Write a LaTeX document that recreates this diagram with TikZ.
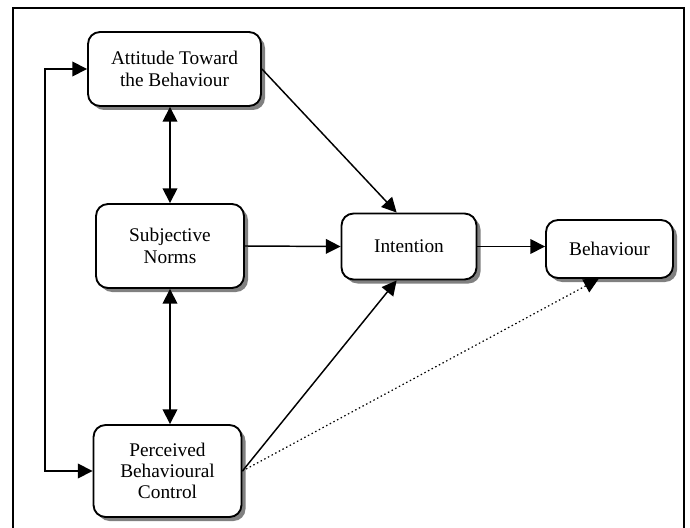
\documentclass[tikz,border=0pt]{standalone}
\usepackage{fontspec}
\setmainfont{Liberation Serif}
\usetikzlibrary{arrows.meta, positioning, shadows}
\definecolor{tpInk}{HTML}{000000}
\definecolor{tpShade}{HTML}{808080}
\tikzset{
  construct/.style={
    draw=tpInk, line width=1.4pt, rounded corners=9pt,
    fill=white, align=center, inner sep=2pt,
    font=\fontsize{14.5}{16}\selectfont, text=tpInk,
    drop shadow={shadow xshift=3pt, shadow yshift=-3pt, fill=tpShade, opacity=1}
  },
  link/.style={-{Triangle[length=11pt, width=11pt]}, line width=1.1pt, draw=tpInk},
  dlink/.style={{Triangle[length=11pt, width=11pt]}-{Triangle[length=11pt, width=11pt]}, line width=1.1pt, draw=tpInk},
  weak/.style={link, dotted, line width=0.9pt},
}

\begin{document}
\begin{tikzpicture}[x=0.75pt, y=-0.75pt]
  \useasboundingbox (0,0) rectangle (690,528);
  \draw[line width=1.5pt] (12.5,8.5) rectangle (684,545);

  \node[construct, minimum width=129.75pt, minimum height=55.5pt] (att) at (174.5,69)  {Attitude Toward\\the Behaviour};
  \node[construct, minimum width=111pt,    minimum height=63pt]   (sub) at (170,246)   {Subjective\\Norms};
  \node[construct, minimum width=111pt,    minimum height=69pt]   (pbc) at (167.5,471) {Perceived\\Behavioural\\Control};
  \node[construct, minimum width=101.25pt, minimum height=49.5pt] (int) at (409,246.5) {Intention};
  \node[construct, minimum width=95.25pt,  minimum height=43.5pt] (beh) at (609.5,249) {Behaviour};
  \coordinate (loop) at (45,0);

  \draw[dlink] (sub.north |- att.south) -- (sub.north);
  \draw[dlink] (sub.south) -- (sub.south |- pbc.north);
  \draw[dlink] (att.west) -- (att.west -| loop) |- (pbc.west);

  \draw[link] (att.east)  -- (int.110);
  \draw[link] (sub.east)  -- (int.west);
  \draw[link] (pbc.east)  -- (int.250);
  \draw[link] (int.east)  -- (int.east -| beh.west);
  \draw[weak] (pbc.east)  -- (beh.250);
\end{tikzpicture}
\end{document}
